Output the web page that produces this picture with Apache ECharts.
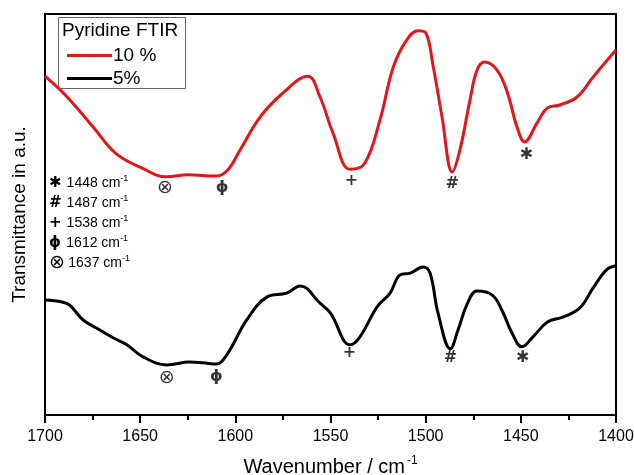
<!DOCTYPE html>
<html>
<head>
<meta charset="utf-8">
<script src="https://cdn.jsdelivr.net/npm/echarts@6/dist/echarts.min.js"></script>
<style>
  html, body { margin: 0; padding: 0; background: #fff; }
  #chart { width: 634px; height: 475px; }
</style>
</head>
<body>
<div id="chart"></div>
<script>
// wavenumber (cm-1) and transmittance (a.u.)
const red10 = [
  [1700, 84.5], [1693, 81.5], [1687, 78.6], [1675, 72.0], [1663, 65.3], [1650, 61.8],
  [1636, 59.4], [1625, 59.9], [1610, 59.6], [1604, 61.1], [1597.5, 66.1],
  [1587, 74.3], [1575, 80.3], [1562, 84.5], [1555.5, 79.3], [1548.7, 70.3],
  [1539.7, 61.3], [1532, 62.8], [1524, 73.6], [1517, 86.8], [1510, 93.5],
  [1504, 95.8], [1500, 95.3], [1496, 86.8], [1491.4, 74.3], [1486, 60.6],
  [1482, 66.1], [1476.7, 78.6], [1473, 86.0], [1469, 88.0], [1462.5, 86.0],
  [1457, 80.3], [1452, 71.8], [1448, 68.1], [1441.5, 72.8], [1436, 76.6],
  [1429.5, 77.3], [1420.5, 79.3], [1412, 84.3], [1400, 91.0]
];
const black5 = [
  [1700, 28.7], [1691, 28.2], [1687, 27.4], [1680, 23.7], [1673, 21.7], [1664, 19.2],
  [1657, 17.5], [1648.5, 14.5], [1636, 12.5], [1624, 13.2], [1617, 13.0],
  [1610, 12.7], [1604.5, 15.0], [1594, 23.7], [1583.5, 29.4], [1573, 30.4],
  [1566, 32.2], [1555.5, 27.9], [1550, 25.4], [1539.7, 17.5], [1534.5, 19.5],
  [1525.6, 26.9], [1518.7, 30.4], [1513.5, 34.9], [1508, 35.4], [1501.4, 36.9],
  [1497.7, 35.4], [1493.5, 25.4], [1487, 16.5], [1483, 21.2], [1478, 27.9],
  [1473, 30.9], [1465, 29.9], [1460, 26.2], [1454.6, 20.4], [1449.4, 17.0],
  [1443.6, 19.5], [1436, 23.2], [1428, 24.4], [1419, 26.7], [1412, 31.7],
  [1405, 36.2], [1400, 37.2]
];
// band markers: [wavenumber, y, glyph]
const marks = [
  [1637, 56.6, '⊗'], [1607, 56.6, 'ϕ'], [1539, 58.4, '+'], [1486, 57.6, '#'], [1447, 64.8, '✱'],
  [1636, 9.3, '⊗'], [1610, 9.5, 'ϕ'], [1540, 15.5, '+'], [1487, 14.2, '#'], [1449, 14.2, '✱']
];
const bandGlyphs = ['✱', '#', '+', 'ϕ', '⊗'];
const bandValues = ['1448', '1487', '1538', '1612', '1637'];
const xTicks = [1700, 1650, 1600, 1550, 1500, 1450, 1400];

const font = 'Liberation Sans, Arial, sans-serif';
const chart = echarts.init(document.getElementById('chart'));

const bandText = bandGlyphs.map((g, i) => ({
  type: 'text',
  left: 49,
  top: 174 + i * 20,
  style: {
    text: '{g|' + g + '} {t|' + bandValues[i] + ' cm}{s|-1}',
    rich: {
      g: { fontSize: g === '⊗' ? 19 : 15, fontFamily: 'DejaVu Sans', fontWeight: g === '⊗' ? 'normal' : 'bold', width: 16, align: 'center', fill: '#000' },
      t: { fontSize: 14, fontFamily: font, fill: '#000' },
      s: { fontSize: 9, fontFamily: font, fill: '#000', verticalAlign: 'top', padding: [0, 0, 9, 0] }
    }
  }
}));

chart.setOption({
  animation: false,
  backgroundColor: '#fff',
  grid: {
    left: 45, right: 18, top: 14, bottom: 60, show: true, borderColor: '#000', borderWidth: 2,
    containLabel: false, outerBoundsMode: 'none'
  },
  legend: {
    orient: 'vertical',
    left: 62,
    top: 41,
    itemWidth: 45,
    itemHeight: 3,
    itemGap: 4,
    data: [{ name: '10 %', icon: 'rect' }, { name: '5%', icon: 'rect' }],
    textStyle: { fontSize: 19, fontFamily: font, color: '#000', padding: [0, 0, 0, -4] }
  },
  graphic: [
    { type: 'rect', shape: { x: 58.5, y: 17.5, width: 127, height: 71 }, style: { fill: 'none', stroke: '#666', lineWidth: 1 } },
    { type: 'text', left: 62, top: 21, style: { text: 'Pyridine FTIR', fontSize: 19, fontFamily: font, fill: '#000' } }
  ].concat(bandText),
  xAxis: {
    type: 'value',
    inverse: true,
    min: 1400,
    max: 1700,
    interval: 50,
    splitLine: { show: false },
    axisLine: { lineStyle: { color: '#000', width: 2 } },
    axisTick: { inside: false, length: 8, lineStyle: { color: '#000', width: 2 } },
    minorTick: { show: true, splitNumber: 2, length: 5, lineStyle: { color: '#000', width: 2 } },
    axisLabel: {
      fontSize: 16, fontFamily: font, color: '#000', margin: 14,
      formatter: v => xTicks.indexOf(v) >= 0 ? String(v) : ''
    },
    name: '{a|Wavenumber / cm}{s|-1}',
    nameLocation: 'middle',
    nameGap: 40,
    nameTextStyle: {
      rich: {
        a: { fontSize: 20, fontFamily: font, color: '#000' },
        s: { fontSize: 12, fontFamily: font, color: '#000', verticalAlign: 'top', padding: [0, 0, 12, 2] }
      }
    }
  },
  yAxis: {
    type: 'value',
    min: 0,
    max: 100,
    splitLine: { show: false },
    axisLine: { show: true, lineStyle: { color: '#000', width: 2 } },
    axisTick: { show: false },
    axisLabel: { show: false },
    name: 'Transmittance in a.u.',
    nameLocation: 'middle',
    nameGap: 16,
    nameTextStyle: { fontSize: 19, fontFamily: font, color: '#000' }
  },
  series: [
    {
      name: '10 %', type: 'line', data: red10, smooth: 0.4, showSymbol: false, symbol: 'none',
      lineStyle: { color: '#e3161b', width: 3 }, itemStyle: { color: '#e3161b' }
    },
    {
      name: '5%', type: 'line', data: black5, smooth: 0.4, showSymbol: false, symbol: 'none',
      lineStyle: { color: '#000', width: 3 }, itemStyle: { color: '#000' }
    },
    {
      name: 'bands', type: 'scatter', data: marks, symbolSize: 1, itemStyle: { color: 'transparent' },
      silent: true,
      label: {
        show: true, position: 'inside',
        formatter: p => '{' + (p.data[2] === '⊗' ? 'o' : 'b') + '|' + p.data[2] + '}',
        rich: {
          o: { fontSize: 19, fontFamily: 'DejaVu Sans', color: '#000' },
          b: { fontSize: 16, fontFamily: 'DejaVu Sans', fontWeight: 'bold', color: '#000' }
        }
      }
    }
  ]
});
</script>
</body>
</html>
